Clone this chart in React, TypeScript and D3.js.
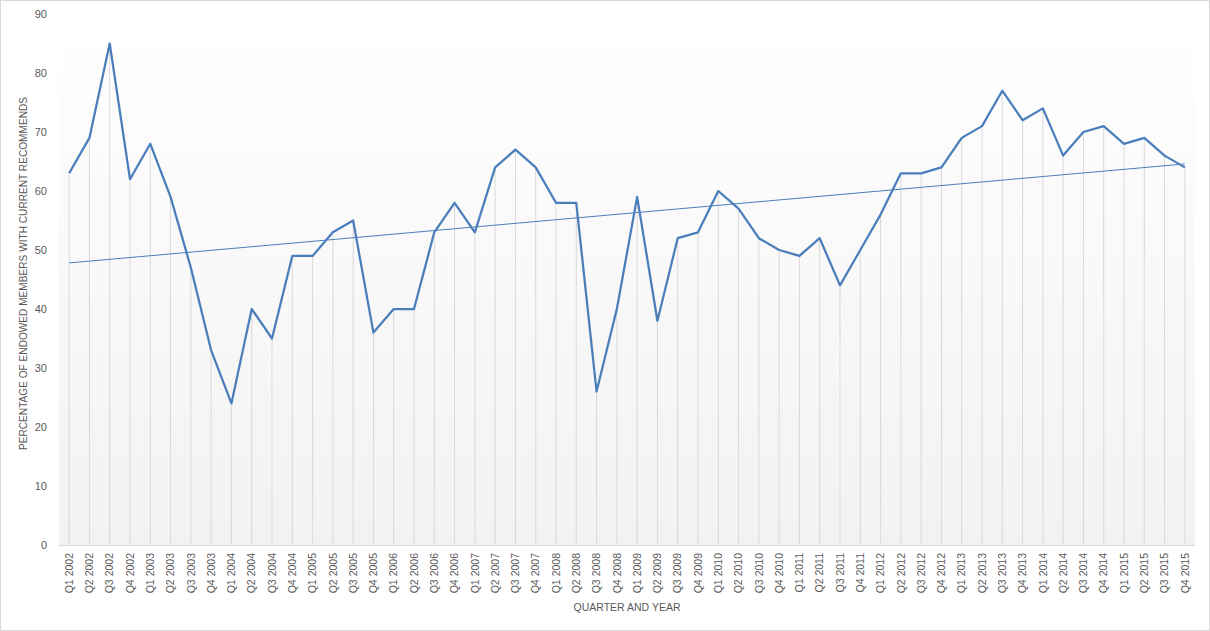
import { useMemo } from "react";
import * as d3 from "d3";

const W = 1210;
const H = 631;

const years = d3.range(2002, 2016);
const quarters = ["Q1", "Q2", "Q3", "Q4"];
const categories = years.flatMap((y) => quarters.map((q) => `${q} ${y}`));

const percentValues = [
  63, 69, 85, 62, 68, 59, 47, 33, 24, 40, 35, 49, 49, 53, 55, 36,
  40, 40, 53, 58, 53, 64, 67, 64, 58, 58, 26, 40, 59, 38, 52, 53,
  60, 57, 52, 50, 49, 52, 44, 50, 56, 63, 63, 64, 69, 71, 77, 72,
  74, 66, 70, 71, 68, 69, 66, 64,
];

const yTicks = [0, 10, 20, 30, 40, 50, 60, 70, 80, 90];

const LINE = "#4a7ebb";
const TEXT = "#595959";
const FONT = "'Liberation Sans', Arial, sans-serif";

const margin = { top: 14, right: 15, bottom: 86, left: 59 };

export default function App() {
  const innerW = W - margin.left - margin.right;
  const innerH = H - margin.top - margin.bottom;

  const x = d3.scaleBand<string>().domain(categories).range([0, innerW]).padding(0);
  const y = d3.scaleLinear().domain([0, 90]).range([innerH, 0]);
  const cx = (c: string) => (x(c) ?? 0) + x.bandwidth() / 2;

  const line = d3
    .line<number>()
    .x((_, i) => cx(categories[i]))
    .y((d) => y(d));

  // least-squares trend line, like the spreadsheet's linear trendline
  const trend = useMemo(() => {
    const n = percentValues.length;
    const xs = d3.range(1, n + 1);
    const mx = d3.mean(xs)!;
    const my = d3.mean(percentValues)!;
    const slope =
      d3.sum(xs, (v, i) => (v - mx) * (percentValues[i] - my)) /
      d3.sum(xs, (v) => (v - mx) ** 2);
    const icpt = my - slope * mx;
    return [icpt + slope * 1, icpt + slope * n];
  }, []);

  return (
    <svg
      width={W}
      height={H}
      style={{ position: "absolute", left: 0, top: 0, display: "block", background: "#fff" }}
      fontFamily={FONT}
    >
      <defs>
        <linearGradient id="plotBg" x1="0" y1="0" x2="0" y2="1">
          <stop offset="0" stopColor="#ffffff" />
          <stop offset="1" stopColor="#f2f2f2" />
        </linearGradient>
      </defs>
      <rect x={0.5} y={0.5} width={W - 1} height={H - 1} fill="#fff" stroke="#d9d9d9" />

      <g transform={`translate(${margin.left},${margin.top})`}>
        <rect x={0} y={0} width={innerW} height={innerH} fill="url(#plotBg)" />

        {/* drop lines */}
        {percentValues.map((v, i) => (
          <line
            key={categories[i]}
            x1={cx(categories[i])}
            x2={cx(categories[i])}
            y1={y(v)}
            y2={innerH}
            stroke="#d9d9d9"
            strokeWidth={1}
          />
        ))}

        <line x1={0} x2={innerW} y1={innerH + 0.5} y2={innerH + 0.5} stroke="#d9d9d9" />

        {yTicks.map((t) => (
          <text
            key={t}
            x={-12}
            y={y(t)}
            dy="0.35em"
            textAnchor="end"
            fontSize={11}
            fill={TEXT}
          >
            {t}
          </text>
        ))}

        {categories.map((c) => (
          <text
            key={c}
            transform={`translate(${cx(c)},${innerH + 8}) rotate(-90)`}
            textAnchor="end"
            dy="0.35em"
            fontSize={10.5}
            fill={TEXT}
          >
            {c}
          </text>
        ))}

        <line
          x1={cx(categories[0])}
          x2={cx(categories[categories.length - 1])}
          y1={y(trend[0])}
          y2={y(trend[1])}
          stroke={LINE}
          strokeWidth={1}
        />

        <path
          d={line(percentValues) ?? ""}
          fill="none"
          stroke={LINE}
          strokeWidth={2.25}
          strokeLinejoin="round"
        />

        <text
          x={innerW / 2}
          y={innerH + 66}
          textAnchor="middle"
          fontSize={10.5}
          fill={TEXT}
        >
          QUARTER AND YEAR
        </text>
      </g>

      <text
        transform={`translate(27,${margin.top + innerH / 2 - 6}) rotate(-90)`}
        textAnchor="middle"
        fontSize={10.5}
        fill={TEXT}
        textLength={353}
        lengthAdjust="spacingAndGlyphs"
      >
        PERCENTAGE OF ENDOWED MEMBERS WITH CURRENT RECOMMENDS
      </text>
    </svg>
  );
}
